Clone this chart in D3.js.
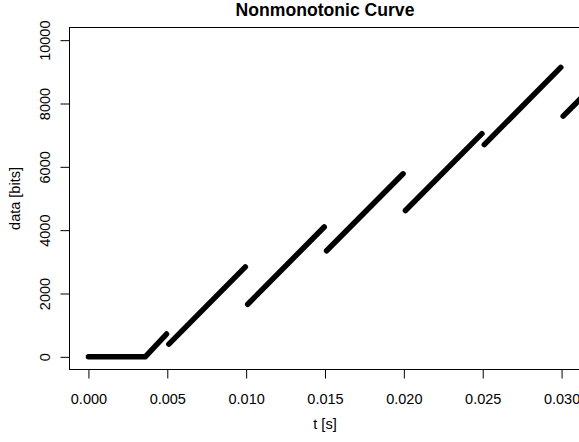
<!DOCTYPE html>
<html>
<head>
<title>Nonmonotonic Curve</title>
<style>
  body { margin: 0; background: #fff; }
  svg text { font-family: "Liberation Sans", Arial, sans-serif; fill: #000; }
  .axis text { font-size: 14.5px; }
  .axis line { stroke: #000; }
</style>
</head>
<body>
<script src="https://cdn.jsdelivr.net/npm/d3@7"></script>
<script>
// each piece of the curve: times [s] and data [bits]; pieces are not joined
var pieceTimes = [
  [0.0000, 0.0036, 0.00495],
  [0.0051, 0.00995],
  [0.0101, 0.01495],
  [0.0151, 0.01995],
  [0.0201, 0.02495],
  [0.0251, 0.02995],
  [0.0301, 0.0320]
];
var pieceBits = [
  [0, 0, 720],
  [400, 2840],
  [1660, 4100],
  [3350, 5780],
  [4620, 7050],
  [6700, 9140],
  [7600, 8550]
];
var xTicks = [0.000, 0.005, 0.010, 0.015, 0.020, 0.025, 0.030];
var yTicks = [0, 2000, 4000, 6000, 8000, 10000];

var width = 579,
    height = 442,
    plotLeft = 69.5, plotTop = 27.5, plotRight = 580.5, plotBottom = 369.5;

var x = d3.scaleLinear().domain([-0.0012, 0.0312]).range([plotLeft, plotRight]);
var y = d3.scaleLinear().domain([-400, 10400]).range([plotBottom, plotTop]);

var svg = d3.select("body").append("svg")
  .attr("width", width)
  .attr("height", height);

svg.append("defs").append("clipPath")
  .attr("id", "plot-clip")
  .append("rect")
  .attr("x", plotLeft).attr("y", plotTop)
  .attr("width", plotRight - plotLeft).attr("height", plotBottom - plotTop);

var pieces = pieceTimes.map(function(ts, i) {
  return ts.map(function(t, j) { return { t: t, v: pieceBits[i][j] }; });
});

var line = d3.line()
  .x(function(d) { return x(d.t); })
  .y(function(d) { return y(d.v); });

svg.append("g")
  .attr("clip-path", "url(#plot-clip)")
  .selectAll("path")
  .data(pieces)
  .enter().append("path")
  .attr("d", line)
  .attr("fill", "none")
  .attr("stroke", "#000")
  .attr("stroke-width", 5.5)
  .attr("stroke-linecap", "round")
  .attr("stroke-linejoin", "round");

// box
svg.append("rect")
  .attr("x", plotLeft).attr("y", plotTop)
  .attr("width", plotRight - plotLeft).attr("height", plotBottom - plotTop)
  .attr("fill", "none")
  .attr("stroke", "#000")
  .attr("stroke-width", 1);

// x axis
var xAxis = svg.append("g")
  .attr("class", "axis")
  .attr("transform", "translate(0," + plotBottom + ")")
  .call(d3.axisBottom(x).tickValues(xTicks).tickFormat(d3.format(".3f")).tickSize(9).tickSizeOuter(0));
xAxis.select(".domain").remove();
xAxis.selectAll("text").attr("y", 34.5).attr("dy", null);

// y axis
var yAxis = svg.append("g")
  .attr("class", "axis")
  .attr("transform", "translate(" + plotLeft + ",0)")
  .call(d3.axisLeft(y).tickValues(yTicks).tickFormat(d3.format("d")).tickSize(9).tickSizeOuter(0));
yAxis.select(".domain").remove();
yAxis.selectAll("text")
  .attr("x", null).attr("dy", null)
  .attr("text-anchor", "middle")
  .attr("transform", "translate(-19.5,0) rotate(-90)");

// titles
svg.append("text")
  .attr("x", (plotLeft + plotRight) / 2)
  .attr("y", 15.5)
  .attr("text-anchor", "middle")
  .style("font-size", "17.6px")
  .style("font-weight", "bold")
  .text("Nonmonotonic Curve");

svg.append("text")
  .attr("x", (plotLeft + plotRight) / 2)
  .attr("y", 429)
  .attr("text-anchor", "middle")
  .style("font-size", "14.5px")
  .text("t [s]");

svg.append("text")
  .attr("transform", "translate(20," + (plotTop + plotBottom) / 2 + ") rotate(-90)")
  .attr("text-anchor", "middle")
  .style("font-size", "14.5px")
  .text("data [bits]");
</script>
</body>
</html>
